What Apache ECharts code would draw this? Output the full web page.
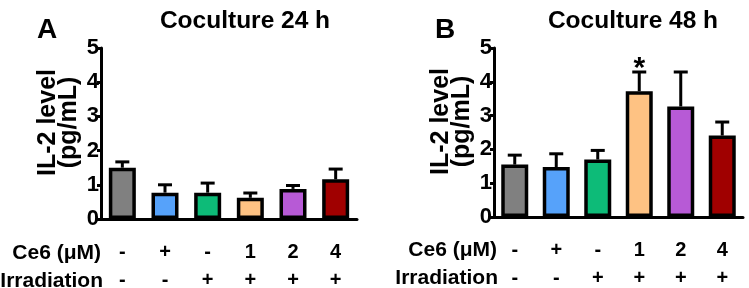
<!DOCTYPE html>
<html>
<head>
<meta charset="utf-8">
<script src="https://cdn.jsdelivr.net/npm/echarts@6/dist/echarts.min.js"></script>
<style>
  html, body { margin: 0; padding: 0; background: #fff; }
  #main { width: 749px; height: 288px; }
</style>
</head>
<body>
<div id="main"></div>
<script>
var ce6Labels = ['-', '+', '-', '1', '2', '4'];
var irrLabels = ['-', '-', '+', '+', '+', '+'];
var barColors = ['#808080', '#56a2fa', '#0dbb78', '#fec283', '#b75ad6', '#a00000'];

var mean24 = [1.50, 0.77, 0.77, 0.62, 0.88, 1.16];
var sem24 = [0.17, 0.23, 0.28, 0.14, 0.10, 0.30];
var mean48 = [1.55, 1.48, 1.70, 3.72, 3.27, 2.41];
var sem48 = [0.28, 0.39, 0.27, 0.57, 1.02, 0.40];
var sig48 = ['', '', '', '*', '', ''];

var FONT = '"Liberation Sans", Arial, sans-serif';
var chart = echarts.init(document.getElementById('main'));

function xAxisFor(grid) {
  return {
    type: 'category',
    gridIndex: grid,
    data: ce6Labels.map(function (c, i) { return c + '\n' + irrLabels[i]; }),
    axisLine: { lineStyle: { color: '#000', width: 3 } },
    axisTick: { alignWithLabel: true, length: 5, lineStyle: { color: '#000', width: 2 } },
    axisLabel: { color: '#000', fontWeight: 'bold', fontSize: 20, fontFamily: FONT, lineHeight: 28.5, margin: 19 }
  };
}

function yAxisFor(grid) {
  return {
    type: 'value',
    gridIndex: grid,
    min: 0, max: 5, interval: 1,
    name: 'IL-2 level\n(pg/mL)',
    nameLocation: 'middle',
    nameRotate: 90,
    nameGap: 21,
    nameTextStyle: { color: '#000', fontWeight: 'bold', fontSize: 25, fontFamily: FONT, lineHeight: 21, padding: [0, 0, 0, 22] },
    splitLine: { show: false },
    axisLine: { show: true, lineStyle: { color: '#000', width: 3 } },
    axisTick: { show: true, length: 4, lineStyle: { color: '#000', width: 3 } },
    axisLabel: { color: '#000', fontWeight: 'bold', fontSize: 22, fontFamily: FONT, margin: 2 }
  };
}

function barSeries(idx, means) {
  return {
    type: 'bar',
    xAxisIndex: idx, yAxisIndex: idx,
    barWidth: 27,
    data: means.map(function (v, i) {
      return { value: v, itemStyle: { color: barColors[i] } };
    }),
    itemStyle: { borderColor: '#000', borderWidth: 3.5 },
    z: 3
  };
}

function errSeries(idx, means, sems, marks) {
  return {
    type: 'custom',
    xAxisIndex: idx, yAxisIndex: idx,
    data: means.map(function (v, i) { return [i, v, sems[i]]; }),
    z: 2,
    renderItem: function (params, api) {
      var i = api.value(0), m = api.value(1), e = api.value(2);
      var p0 = api.coord([i, m]);
      var p1 = api.coord([i, m + e]);
      var children = [
        { type: 'line', shape: { x1: p0[0], y1: p0[1], x2: p1[0], y2: p1[1] }, style: { stroke: '#000', lineWidth: 3 } },
        { type: 'line', shape: { x1: p1[0] - 7, y1: p1[1], x2: p1[0] + 7, y2: p1[1] }, style: { stroke: '#000', lineWidth: 3 } }
      ];
      if (marks && marks[i]) {
        children.push({
          type: 'text',
          style: { text: marks[i], x: p1[0], y: p1[1] - 3, align: 'center', verticalAlign: 'middle',
                   fill: '#000', font: 'bold 30px ' + FONT }
        });
      }
      return { type: 'group', children: children };
    }
  };
}

var option = {
  animation: false,
  title: [
    { text: 'Coculture 24 h', left: 240, top: 4, textAlign: 'center',
      textStyle: { color: '#000', fontWeight: 'bold', fontSize: 24.5, fontFamily: FONT } },
    { text: 'Coculture 48 h', left: 628, top: 4, textAlign: 'center',
      textStyle: { color: '#000', fontWeight: 'bold', fontSize: 24.5, fontFamily: FONT } }
  ],
  grid: [
    { left: 101, top: 48, width: 256, height: 171, outerBoundsMode: 'none' },
    { left: 494, top: 48, width: 249, height: 169, outerBoundsMode: 'none' }
  ],
  xAxis: [xAxisFor(0), xAxisFor(1)],
  yAxis: [yAxisFor(0), yAxisFor(1)],
  series: [
    barSeries(0, mean24), errSeries(0, mean24, sem24, null),
    barSeries(1, mean48), errSeries(1, mean48, sem48, sig48)
  ],
  graphic: [
    { type: 'text', left: 37, top: 16, style: { text: 'A', fill: '#000', font: 'bold 28px ' + FONT } },
    { type: 'text', left: 435, top: 16, style: { text: 'B', fill: '#000', font: 'bold 28px ' + FONT } },
    { type: 'text', right: 749 - 101, top: 243, style: { text: 'Ce6 (\u03bcM)', fill: '#000', font: 'bold 21px ' + FONT } },
    { type: 'text', right: 749 - 103, top: 271, style: { text: 'Irradiation', fill: '#000', font: 'bold 21px ' + FONT } },
    { type: 'text', right: 749 - 497, top: 240, style: { text: 'Ce6 (\u03bcM)', fill: '#000', font: 'bold 21px ' + FONT } },
    { type: 'text', right: 749 - 498, top: 268, style: { text: 'Irradiation', fill: '#000', font: 'bold 21px ' + FONT } }
  ]
};

chart.setOption(option);
</script>
</body>
</html>
